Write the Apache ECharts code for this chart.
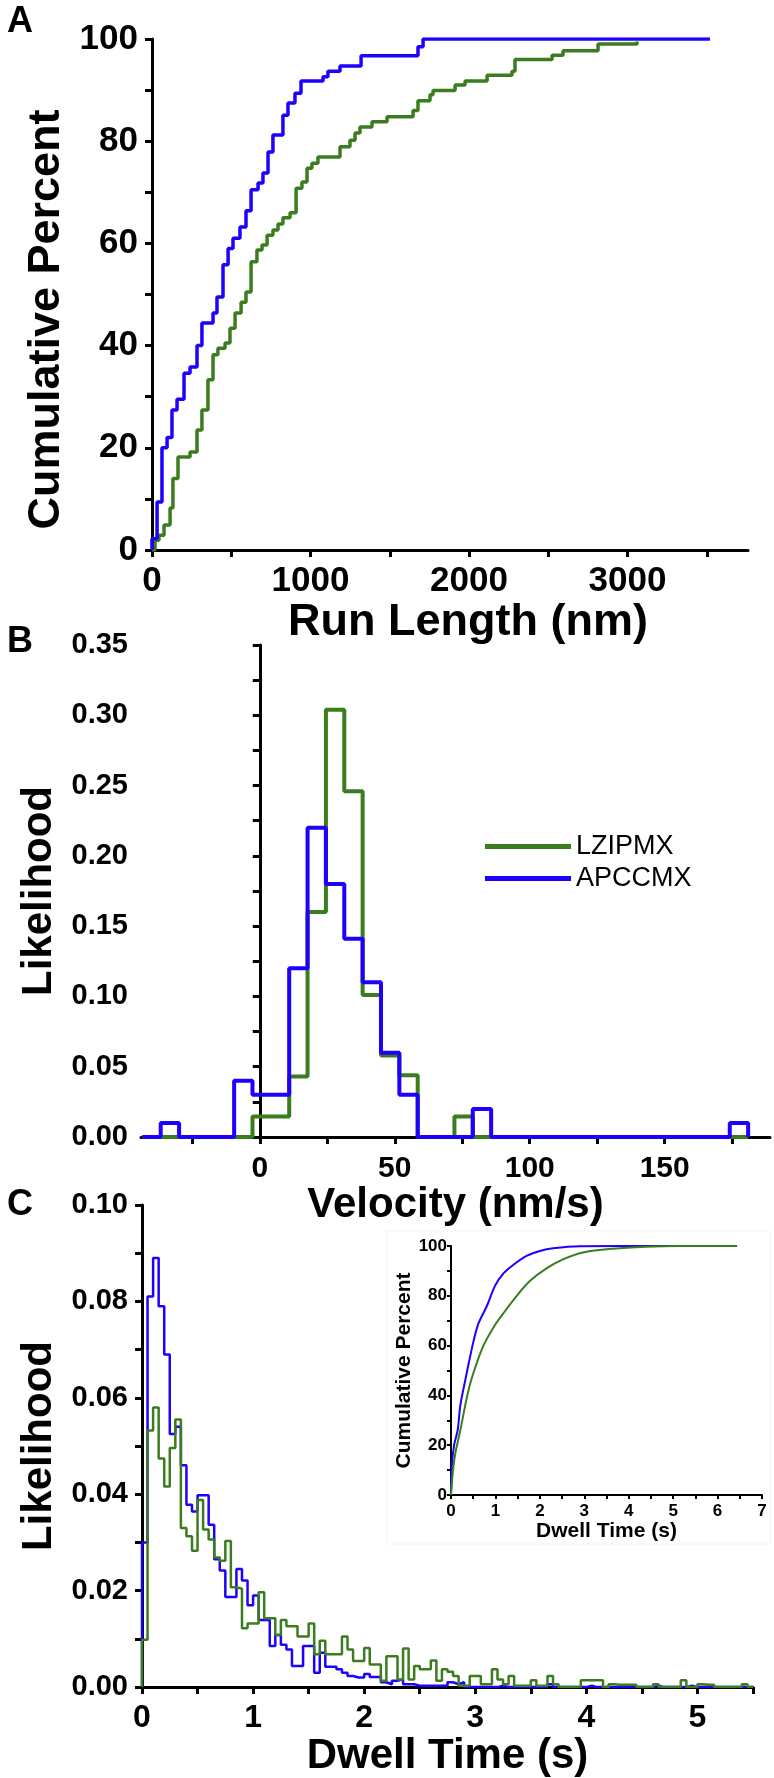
<!DOCTYPE html>
<html><head><meta charset="utf-8">
<script src="https://cdn.jsdelivr.net/npm/echarts@6/dist/echarts.min.js"></script>
<style>html,body{margin:0;padding:0;background:#fff}#c{width:774px;height:1778px}</style>
</head><body><div id="c"></div>
<script>
// ---------- Panel A: cumulative run length ----------
const runLenBlueX = [0, 0, 32, 63, 95, 126, 158, 202, 240, 284, 315, 385, 410, 448, 480, 511, 555, 593, 625, 669, 700, 732, 763, 826, 858, 902, 940, 1079, 1110, 1186, 1319, 1678, 1710, 3520];
const runLenBlueY = [0, 2.2, 9.4, 20, 22, 27.4, 29.5, 34.6, 35.8, 40, 44.4, 46.4, 49.5, 55.8, 59, 61, 63.2, 66.4, 70.5, 71.8, 73.8, 77.9, 81.2, 85.1, 87.5, 89.4, 91.8, 92.6, 93.7, 94.7, 96.7, 98.5, 100, 100];
const runLenGreenX = [0, 19, 44, 76, 114, 132, 164, 240, 284, 315, 353, 385, 416, 461, 492, 524, 562, 593, 625, 662, 694, 726, 763, 795, 826, 871, 909, 946, 978, 1009, 1047, 1186, 1249, 1281, 1312, 1388, 1483, 1647, 1678, 1754, 1773, 1912, 1975, 2114, 2271, 2290, 2524, 2593, 2814, 3060];
const runLenGreenY = [0, 1.9, 2.9, 4.9, 8.2, 14, 18.2, 19.2, 23.5, 27.4, 33.3, 38.2, 39.5, 40.5, 43.4, 46.4, 48.5, 50.5, 56.4, 58.7, 59.7, 61.6, 62.6, 63.8, 65, 66, 70.8, 72, 74.7, 75.7, 76.9, 78.9, 80.2, 81.6, 82.8, 83.8, 84.8, 86, 87.9, 89.1, 89.9, 91, 91.8, 92.9, 93.7, 96, 96.8, 97.7, 99, 99.5];
const runLenTicks = [0, 500, 1000, 1500, 2000, 2500, 3000, 3500];
const runLenLabels = [0, 1000, 2000, 3000];

// ---------- Panel B: velocity histogram ----------
const velocityEdges = [-43.5, -36.7, -29.9, -23.1, -16.3, -9.5, -2.7, 4.1, 10.9, 17.7, 24.5, 31.3, 38.1, 44.9, 51.7, 58.5, 65.3, 72.1, 78.9, 85.7, 92.5, 99.3, 106.1, 112.9, 119.7, 126.5, 133.3, 140.1, 146.9, 153.7, 160.5, 167.3, 174.1, 180.9];
const velocityLZIPMX = [0, 0, 0, 0, 0, 0, 0.0145, 0.0145, 0.043, 0.16, 0.304, 0.246, 0.101, 0.058, 0.044, 0, 0, 0.0145, 0, 0, 0, 0, 0, 0, 0, 0, 0, 0, 0, 0, 0, 0, 0];
const velocityAPCCMX = [0, 0.01, 0, 0, 0, 0.04, 0.03, 0.03, 0.12, 0.22, 0.18, 0.141, 0.11, 0.06, 0.03, 0, 0, 0, 0.02, 0, 0, 0, 0, 0, 0, 0, 0, 0, 0, 0, 0, 0, 0.01];
const velocityTicks = [-25, 0, 25, 50, 75, 100, 125, 150, 175];
const velocityLabels = [0, 50, 100, 150];

// ---------- Panel C: dwell time histogram ----------
const dwellEdges = [0, 0.05, 0.1, 0.15, 0.2, 0.25, 0.3, 0.35, 0.4, 0.45, 0.5, 0.55, 0.6, 0.65, 0.7, 0.75, 0.8, 0.85, 0.9, 0.95, 1, 1.05, 1.1, 1.15, 1.2, 1.25, 1.3, 1.35, 1.4, 1.45, 1.5, 1.55, 1.6, 1.65, 1.7, 1.75, 1.8, 1.85, 1.9, 1.95, 2, 2.05, 2.1, 2.15, 2.2, 2.25, 2.3, 2.35, 2.4, 2.45, 2.5, 2.55, 2.6, 2.65, 2.7, 2.75, 2.8, 2.85, 2.9, 2.95, 3, 3.05, 3.1, 3.15, 3.2, 3.25, 3.3, 3.35, 3.4, 3.45, 3.5, 3.55, 3.6, 3.65, 3.7, 3.75, 3.8, 3.85, 3.9, 3.95, 4, 4.05, 4.1, 4.15, 4.2, 4.25, 4.3, 4.35, 4.4, 4.45, 4.5, 4.55, 4.6, 4.65, 4.7, 4.75, 4.8, 4.85, 4.9, 4.95, 5, 5.05, 5.1, 5.15, 5.2, 5.25, 5.3, 5.35, 5.4, 5.45, 5.5];
const dwellAPCCMX = [0.030, 0.081, 0.089, 0.079, 0.069, 0.0525, 0.054, 0.046, 0.0378, 0.0364, 0.0398, 0.0398, 0.0337, 0.0265, 0.0242, 0.0187, 0.0187, 0.0245, 0.0221, 0.017, 0.019, 0.0139, 0.0139, 0.0085, 0.0108, 0.0088, 0.0078, 0.0044, 0.0044, 0.0085, 0.0085, 0.003, 0.0071, 0.0042, 0.0042, 0.0037, 0.003, 0.0023, 0.002, 0.002, 0.0027, 0.0021, 0.0021, 0.001, 0.0006, 0.0013, 0.0016, 0.0006, 0.0006, 0.0003, 0.0003, 0.0003, 0.0003, 0.0003, 0.0003, 0.001, 0.0006, 0.001, 0, 0, 0, 0, 0, 0, 0.0003, 0, 0, 0, 0, 0, 0, 0, 0, 0.0006, 0, 0, 0, 0, 0, 0, 0.0003, 0, 0, 0, 0, 0, 0, 0, 0, 0, 0, 0, 0.0003, 0, 0, 0, 0, 0, 0.0003, 0, 0, 0, 0, 0, 0, 0, 0, 0, 0, 0];
const dwellLZIPMX = [0.0098, 0.0532, 0.058, 0.0474, 0.0416, 0.0496, 0.0555, 0.033, 0.0313, 0.0283, 0.0388, 0.0327, 0.0306, 0.0269, 0.0262, 0.0303, 0.0207, 0.0204, 0.0122, 0.0132, 0.0132, 0.0197, 0.0143, 0.0143, 0.0108, 0.0139, 0.0126, 0.0126, 0.0105, 0.0105, 0.0132, 0.0068, 0.0096, 0.0068, 0.0068, 0.0068, 0.0105, 0.0078, 0.0054, 0.0054, 0.0081, 0.0047, 0.0047, 0.0013, 0.0064, 0.0064, 0.0016, 0.008, 0.0016, 0.0044, 0.0037, 0.0037, 0.0055, 0.0013, 0.0037, 0.0032, 0.0023, 0.0003, 0.0003, 0.0023, 0.0023, 0.0006, 0.0006, 0.0037, 0.0016, 0.0006, 0.0023, 0.0003, 0.0003, 0.0003, 0.0014, 0.0003, 0.0003, 0.0023, 0.0006, 0, 0, 0, 0, 0.0014, 0.0014, 0.0014, 0.0014, 0, 0.0006, 0.0005, 0.0005, 0.0005, 0.0005, 0, 0, 0, 0.0006, 0, 0, 0, 0, 0.0014, 0, 0, 0.0006, 0.0005, 0.0005, 0, 0, 0, 0, 0, 0.0006, 0];
const dwellTicks = [0, 0.5, 1, 1.5, 2, 2.5, 3, 3.5, 4, 4.5, 5, 5.5];
const dwellLabels = [0, 1, 2, 3, 4, 5];

// ---------- Panel C inset: cumulative dwell time ----------
const cumDwellBlueX = [0, 0.02, 0.07, 0.15, 0.21, 0.32, 0.40, 0.51, 0.62, 0.81, 0.99, 1.18, 1.40, 1.70, 2.0, 2.3, 2.9, 5.0];
const cumDwellBlueY = [0, 11.7, 20, 26, 36, 46, 53, 62, 69, 76, 84, 89, 92.4, 96, 98, 99.1, 99.9, 100];
const cumDwellGreenX = [0, 0.045, 0.1, 0.21, 0.32, 0.43, 0.58, 0.73, 0.96, 1.18, 1.48, 1.78, 2.15, 2.52, 2.97, 3.64, 4.39, 5.13, 6.44];
const cumDwellGreenY = [0, 10, 17, 26, 36, 44.6, 53, 60, 67.4, 73, 80, 86, 91, 94.6, 97.4, 98.9, 99.7, 100, 100];

const GREEN = '#3b7d1e', BLUE = '#1e00ff';
const FONT = 'Liberation Sans, Arial, sans-serif';

function zip(xs, ys) { return xs.map((x, i) => [x, ys[i]]); }
function outline(edges, h) {
  const d = [[edges[0], 0]];
  for (let i = 0; i < h.length; i++) d.push([edges[i + 1], h[i]]);
  d.push([edges[edges.length - 1], 0]);
  return d;
}
const axLine = { lineStyle: { color: '#000', width: 3 } };
function tick(len, w) { return { show: true, length: len, lineStyle: { color: '#000', width: w } }; }
function lbl(size, margin, extra) {
  return Object.assign({ color: '#000', fontWeight: 'bold', fontFamily: FONT, fontSize: size, margin: margin }, extra || {});
}
function nameStyle(size, pad) {
  return { color: '#000', fontWeight: 'bold', fontFamily: FONT, fontSize: size, padding: pad || 0 };
}

const chart = echarts.init(document.getElementById('c'), null, { renderer: 'canvas' });
const option = {
  animation: false,
  backgroundColor: '#fff',
  grid: [
    { left: 152, top: 39, width: 596, height: 511 },
    { left: 141, top: 645, width: 629, height: 492 },
    { left: 142, top: 1205, width: 611, height: 488 },
    { left: 451, top: 1246, width: 311, height: 249 }
  ],
  xAxis: [
    { gridIndex: 0, type: 'value', min: 0, max: 3760, axisLine: axLine, splitLine: { show: false },
      axisTick: Object.assign(tick(7, 3), { customValues: runLenTicks }),
      axisLabel: lbl(35, 14, { customValues: runLenLabels, formatter: v => String(v) }),
      name: 'Run Length (nm)', nameLocation: 'middle', nameGap: 46, nameTextStyle: nameStyle(45, [0, 0, 0, 36]) },
    { gridIndex: 1, type: 'value', min: -44, max: 189, axisLine: axLine, splitLine: { show: false },
      axisTick: Object.assign(tick(7, 3), { customValues: velocityTicks }),
      axisLabel: lbl(30, 17, { customValues: velocityLabels, formatter: v => String(v) }),
      name: 'Velocity (nm/s)', nameLocation: 'middle', nameGap: 35, nameTextStyle: nameStyle(42) },
    { gridIndex: 2, type: 'value', min: 0, max: 5.5, axisLine: axLine, splitLine: { show: false },
      axisTick: Object.assign(tick(7, 3), { customValues: dwellTicks }),
      axisLabel: lbl(32, 15, { customValues: dwellLabels, formatter: v => String(v) }),
      name: 'Dwell Time (s)', nameLocation: 'middle', nameGap: 34, nameTextStyle: nameStyle(42) },
    { gridIndex: 3, type: 'value', min: 0, max: 7, interval: 1, axisLine: { lineStyle: { color: '#000', width: 2 } }, splitLine: { show: false },
      axisTick: tick(4, 2), minorTick: { show: true, splitNumber: 2, length: 4, lineStyle: { color: '#000', width: 2 } },
      axisLabel: lbl(17, 8),
      name: 'Dwell Time (s)', nameLocation: 'middle', nameGap: 25, nameTextStyle: nameStyle(21) }
  ],
  yAxis: [
    { gridIndex: 0, type: 'value', min: 0, max: 100, interval: 20, axisLine: Object.assign({ show: true }, axLine), splitLine: { show: false },
      axisTick: tick(7, 3), minorTick: { show: true, splitNumber: 2, length: 7, lineStyle: { color: '#000', width: 3 } },
      axisLabel: lbl(35, 14),
      name: 'Cumulative Percent', nameLocation: 'middle', nameGap: 76, nameTextStyle: nameStyle(45, [0, 50, 0, 0]) },
    { gridIndex: 1, type: 'value', min: 0, max: 0.35, interval: 0.05, axisLine: Object.assign({ show: true }, axLine), splitLine: { show: false },
      axisTick: tick(7, 3), minorTick: { show: true, splitNumber: 2, length: 7, lineStyle: { color: '#000', width: 3 } },
      axisLabel: lbl(29, 13, { formatter: v => v.toFixed(2) }),
      name: 'Likelihood', nameLocation: 'middle', nameGap: 77, nameTextStyle: nameStyle(42) },
    { gridIndex: 2, type: 'value', min: 0, max: 0.1, interval: 0.02, axisLine: Object.assign({ show: true }, axLine), splitLine: { show: false },
      axisTick: tick(7, 3), minorTick: { show: true, splitNumber: 2, length: 7, lineStyle: { color: '#000', width: 3 } },
      axisLabel: lbl(29, 14, { formatter: v => v.toFixed(2) }),
      name: 'Likelihood', nameLocation: 'middle', nameGap: 78, nameTextStyle: nameStyle(42) },
    { gridIndex: 3, type: 'value', min: 0, max: 100, interval: 20, axisLine: { show: true, lineStyle: { color: '#000', width: 2 } }, splitLine: { show: false },
      axisTick: tick(4, 2), minorTick: { show: true, splitNumber: 2, length: 4, lineStyle: { color: '#000', width: 2 } },
      axisLabel: lbl(17, 4),
      name: 'Cumulative Percent', nameLocation: 'middle', nameGap: 36, nameTextStyle: nameStyle(21) }
  ],
  legend: {
    data: ['LZIPMX', 'APCCMX'], orient: 'vertical', left: 480, top: 828,
    itemWidth: 86, itemHeight: 5, itemGap: 5, icon: 'rect',
    textStyle: { color: '#000', fontFamily: FONT, fontSize: 27 }
  },
  graphic: [
    { type: 'rect', shape: { x: 387, y: 1231, width: 383, height: 313 }, style: { fill: 'none', stroke: '#f4f4f4', lineWidth: 1 }, z: -1 },
    { type: 'text', x: 20, y: 22, style: { text: 'A', font: 'bold 36px ' + FONT, fill: '#000', align: 'center', verticalAlign: 'middle' } },
    { type: 'text', x: 20, y: 642, style: { text: 'B', font: 'bold 36px ' + FONT, fill: '#000', align: 'center', verticalAlign: 'middle' } },
    { type: 'text', x: 20, y: 1205, style: { text: 'C', font: 'bold 36px ' + FONT, fill: '#000', align: 'center', verticalAlign: 'middle' } }
  ],
  series: [
    { name: 'LZIPMX run length', type: 'line', xAxisIndex: 0, yAxisIndex: 0, step: 'end', symbol: 'none',
      data: zip(runLenGreenX, runLenGreenY), lineStyle: { color: GREEN, width: 3.5 }, itemStyle: { color: GREEN } },
    { name: 'APCCMX run length', type: 'line', xAxisIndex: 0, yAxisIndex: 0, step: 'end', symbol: 'none',
      data: zip(runLenBlueX, runLenBlueY), lineStyle: { color: BLUE, width: 3.5 }, itemStyle: { color: BLUE } },
    { name: 'LZIPMX', type: 'line', xAxisIndex: 1, yAxisIndex: 1, step: 'start', symbol: 'none',
      data: outline(velocityEdges, velocityLZIPMX), lineStyle: { color: GREEN, width: 4 }, itemStyle: { color: GREEN } },
    { name: 'APCCMX', type: 'line', xAxisIndex: 1, yAxisIndex: 1, step: 'start', symbol: 'none',
      data: outline(velocityEdges, velocityAPCCMX), lineStyle: { color: BLUE, width: 4 }, itemStyle: { color: BLUE } },
    { name: 'APCCMX dwell', type: 'line', xAxisIndex: 2, yAxisIndex: 2, step: 'start', symbol: 'none',
      data: outline(dwellEdges, dwellAPCCMX), lineStyle: { color: BLUE, width: 2.5 }, itemStyle: { color: BLUE } },
    { name: 'LZIPMX dwell', type: 'line', xAxisIndex: 2, yAxisIndex: 2, step: 'start', symbol: 'none',
      data: outline(dwellEdges, dwellLZIPMX), lineStyle: { color: GREEN, width: 2.5 }, itemStyle: { color: GREEN } },
    { name: 'APCCMX cumulative dwell', type: 'line', xAxisIndex: 3, yAxisIndex: 3, symbol: 'none', smooth: 0.3,
      data: zip(cumDwellBlueX, cumDwellBlueY), lineStyle: { color: BLUE, width: 2 }, itemStyle: { color: BLUE } },
    { name: 'LZIPMX cumulative dwell', type: 'line', xAxisIndex: 3, yAxisIndex: 3, symbol: 'none', smooth: 0.3,
      data: zip(cumDwellGreenX, cumDwellGreenY), lineStyle: { color: GREEN, width: 2 }, itemStyle: { color: GREEN } }
  ]
};
chart.setOption(option);
</script>
</body></html>
